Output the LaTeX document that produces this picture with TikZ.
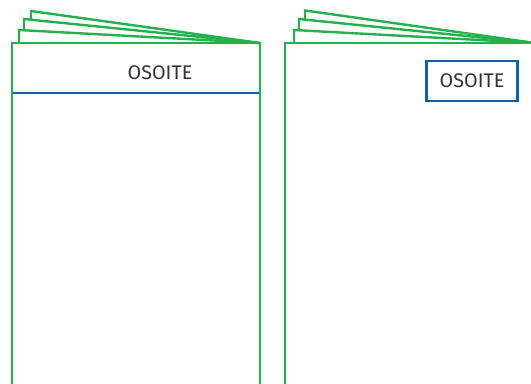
\documentclass[tikz,border=0pt]{standalone}
\usepackage{fontspec}
\setmainfont{Fira Sans}
\definecolor{pagegreen}{HTML}{22B14C}
\definecolor{addrblue}{HTML}{0B63B0}
\definecolor{textgray}{HTML}{333333}
\tikzset{page/.style={draw=pagegreen,line width=1.8pt,line join=miter},
	addrline/.style={draw=addrblue,line width=1.8pt},
	label/.style={text=textgray,font=\fontsize{14.8}{16}\selectfont,inner sep=0pt},
	addrbox/.style={draw=addrblue,line width=1.8pt,text=textgray,font=\fontsize{14.8}{16}\selectfont,minimum width=68.5pt,minimum height=30pt,inner sep=0pt}}

\begin{document}
\begin{tikzpicture}[x=0.75pt,y=-0.75pt]
		\useasboundingbox (0,0) rectangle (531,383);
		\clip (0,0) rectangle (531,383);
		% left booklet
			\coordinate (LT) at (260,43);
			\path[page] (19,43) -- (19,30) -- (LT);
			\path[page] (24,30.2) -- (24,19) -- (LT);
			\path[page] (31,19.4) -- (31,11) -- (LT);
			\path[page] (12,390) -- (12,43) -- (LT) -- (260,390);
			\path[addrline] (13,93) -- (259,93);
			\node[label] (A) at (160,73) {OSOITE};
		% right booklet
			\coordinate (RT) at (535,43);
			\path[page] (294,43) -- (294,30) -- (RT);
			\path[page] (299,30.2) -- (299,19) -- (RT);
			\path[page] (305,19.4) -- (305,10.5) -- (RT);
			\path[page] (285,390) -- (285,43) -- (RT);
			\node[addrbox] (B) at (472,81) {OSOITE};
		\end{tikzpicture}
\end{document}
